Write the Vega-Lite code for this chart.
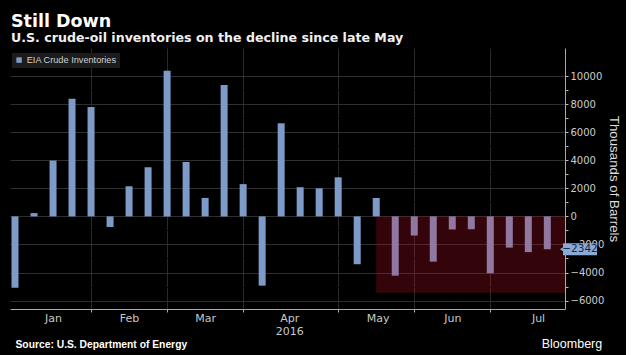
{
  "$schema": "https://vega.github.io/schema/vega-lite/v6.json",
  "width": 555,
  "height": 261,
  "padding": {"left": 10, "top": 12, "right": 5, "bottom": 5},
  "background": "#000000",
  "title": {
    "text": "Still Down",
    "subtitle": "U.S. crude-oil inventories on the decline since late May",
    "anchor": "start",
    "frame": "group",
    "dx": 1,
    "offset": 3,
    "font": "DejaVu Sans",
    "fontSize": 17.5,
    "fontWeight": "bold",
    "color": "#ffffff",
    "subtitleFont": "DejaVu Sans",
    "subtitleFontSize": 12.6,
    "subtitleFontWeight": "bold",
    "subtitleColor": "#f0f0f0",
    "subtitlePadding": 2
  },
  "config": {
    "view": {"stroke": null},
    "axis": {"labelOverlap": false, "labelFlush": false, "zindex": 0}
  },
  "data": {
    "values": [
      {"date": "2016-01-01", "value": -5085},
      {"date": "2016-01-08", "value": 234},
      {"date": "2016-01-15", "value": 3979},
      {"date": "2016-01-22", "value": 8383},
      {"date": "2016-01-29", "value": 7792},
      {"date": "2016-02-05", "value": -754},
      {"date": "2016-02-12", "value": 2147},
      {"date": "2016-02-19", "value": 3502},
      {"date": "2016-02-26", "value": 10374},
      {"date": "2016-03-04", "value": 3880},
      {"date": "2016-03-11", "value": 1317},
      {"date": "2016-03-18", "value": 9357},
      {"date": "2016-03-25", "value": 2299},
      {"date": "2016-04-01", "value": -4937},
      {"date": "2016-04-08", "value": 6634},
      {"date": "2016-04-15", "value": 2080},
      {"date": "2016-04-22", "value": 1999},
      {"date": "2016-04-29", "value": 2784},
      {"date": "2016-05-06", "value": -3410},
      {"date": "2016-05-13", "value": 1310},
      {"date": "2016-05-20", "value": -4226},
      {"date": "2016-05-27", "value": -1366},
      {"date": "2016-06-03", "value": -3226},
      {"date": "2016-06-10", "value": -933},
      {"date": "2016-06-17", "value": -917},
      {"date": "2016-06-24", "value": -4053},
      {"date": "2016-07-01", "value": -2225},
      {"date": "2016-07-08", "value": -2546},
      {"date": "2016-07-15", "value": -2342}
    ]
  },
  "layer": [
    {
      "mark": {"type": "bar", "width": 7, "clip": true},
      "encoding": {
        "x": {
          "field": "date",
          "type": "temporal",
          "scale": {
            "type": "utc",
            "domain": [
              {"year": 2016, "month": 1, "date": 1, "utc": true},
              {"year": 2016, "month": 7, "date": 19, "hours": 16, "utc": true}
            ]
          },
          "axis": {
            "orient": "bottom",
            "tickCount": 30,
            "values": [
              {"year": 2016, "month": 1, "date": 29, "utc": true},
              {"year": 2016, "month": 2, "date": 26, "utc": true},
              {"year": 2016, "month": 3, "date": 25, "utc": true},
              {"year": 2016, "month": 4, "date": 29, "utc": true},
              {"year": 2016, "month": 5, "date": 27, "utc": true},
              {"year": 2016, "month": 6, "date": 24, "utc": true}
            ],
            "labels": false,
            "grid": true,
            "gridColor": "#2a2a2a",
            "ticks": true,
            "tickSize": 3,
            "tickColor": "#aaaaaa",
            "domain": true,
            "domainColor": "#aaaaaa",
            "title": "Source: U.S. Department of Energy",
            "titleFont": "Liberation Sans",
            "titleFontSize": 10.3,
            "titleFontWeight": "bold",
            "titleColor": "#ffffff",
            "titleAnchor": "start",
            "titleAlign": "left",
            "titleBaseline": "alphabetic",
            "titleX": 5,
            "titleY": 38
          }
        },
        "y": {
          "field": "value",
          "type": "quantitative",
          "scale": {"domain": [-6600, 12000], "nice": false, "zero": false},
          "axis": {
            "orient": "right",
            "zindex": 0,
            "tickCount": 40,
            "values": [-6000, -5000, -4000, -3000, -2000, -1000, 0, 1000, 2000, 3000, 4000, 5000, 6000, 7000, 8000, 9000, 10000],
            "format": "d",
            "labelOverlap": false,
            "labelBound": false,
            "labelExpr": "datum.value % 2000 === 0 ? datum.label : ''",
            "grid": true,
            "gridColor": {"condition": {"test": "datum.value % 2000 === 0", "value": "#2e2e2e"}, "value": "#000000"},
            "tickSize": 3,
            "tickColor": "#bbbbbb",
            "domainColor": "#aaaaaa",
            "labelColor": "#cccccc",
            "labelFont": "DejaVu Sans",
            "labelFontSize": 10,
            "labelPadding": 2,
            "title": "Thousands of Barrels",
            "titleFont": "Liberation Sans",
            "titleFontSize": 13.3,
            "titleFontWeight": "normal",
            "titleColor": "#dddddd",
            "titleAngle": 90,
            "titlePadding": 3
          }
        },
        "color": {
          "datum": "EIA Crude Inventories",
          "type": "nominal",
          "scale": {"range": ["#7d9bc8"]},
          "legend": {
            "orient": "none",
            "legendX": 2,
            "legendY": 5,
            "title": null,
            "fillColor": "#1c1c1c",
            "padding": 2.5,
            "symbolType": "square",
            "symbolSize": 30,
            "symbolStrokeWidth": 0,
            "labelFont": "Liberation Sans",
            "labelFontSize": 9.2,
            "labelColor": "#cfcfcf",
            "labelOffset": 3
          }
        }
      }
    },
    {
      "data": {"values": [{"start": "2016-05-13", "end": "2016-07-25", "value": 0, "bottom": -5450}]},
      "mark": {"type": "rect", "color": "#d0102a", "opacity": 0.25, "clip": true},
      "encoding": {
        "x": {
          "field": "start",
          "type": "temporal",
          "axis": {
            "orient": "bottom",
            "tickCount": 30,
            "values": [
              {"year": 2016, "month": 1, "date": 15, "utc": true},
              {"year": 2016, "month": 2, "date": 12, "utc": true},
              {"year": 2016, "month": 3, "date": 11, "utc": true},
              {"year": 2016, "month": 4, "date": 11, "utc": true},
              {"year": 2016, "month": 5, "date": 13, "hours": 12, "utc": true},
              {"year": 2016, "month": 6, "date": 10, "utc": true},
              {"year": 2016, "month": 7, "date": 11, "hours": 14, "utc": true}
            ],
            "labelExpr": "utcFormat(datum.value, '%b') === 'Apr' ? ['Apr', '2016'] : utcFormat(datum.value, '%b')",
            "ticks": false,
            "domain": false,
            "grid": false,
            "labelColor": "#c8c8c8",
            "labelFont": "DejaVu Sans",
            "labelFontSize": 11,
            "labelPadding": 3,
            "labelLineHeight": 13.5,
            "title": "Bloomberg",
            "titleFont": "Liberation Sans",
            "titleFontSize": 12.5,
            "titleFontWeight": "normal",
            "titleColor": "#ffffff",
            "titleAnchor": "end",
            "titleAlign": "right",
            "titleBaseline": "alphabetic",
            "titleX": 591.7,
            "titleY": 38
          }
        },
        "x2": {"field": "end"},
        "y": {"field": "value", "type": "quantitative"},
        "y2": {"field": "bottom"}
      }
    },
    {
      "transform": [{"filter": "datum.value === -2342"}],
      "mark": {
        "type": "point",
        "shape": "M-1,-0.35L1,-0.35L1,0.35L-1,0.35L-1,0.12L-1.18,0L-1,-0.12Z",
        "size": 1156,
        "filled": true,
        "color": "#8aaad6",
        "opacity": 1,
        "strokeWidth": 0,
        "xOffset": 32.7
      },
      "encoding": {
        "x": {"field": "date", "type": "temporal", "axis": null},
        "y": {"field": "value", "type": "quantitative"}
      }
    },
    {
      "transform": [{"filter": "datum.value === -2342"}],
      "mark": {
        "type": "text",
        "font": "DejaVu Sans",
        "fontSize": 10.5,
        "color": "#13284a",
        "align": "center",
        "baseline": "middle",
        "xOffset": 32.7
      },
      "encoding": {
        "x": {"field": "date", "type": "temporal", "axis": null},
        "y": {"field": "value", "type": "quantitative"},
        "text": {"field": "value", "type": "quantitative", "format": "d"}
      }
    }
  ],
  "resolve": {"axis": {"x": "independent"}}
}
